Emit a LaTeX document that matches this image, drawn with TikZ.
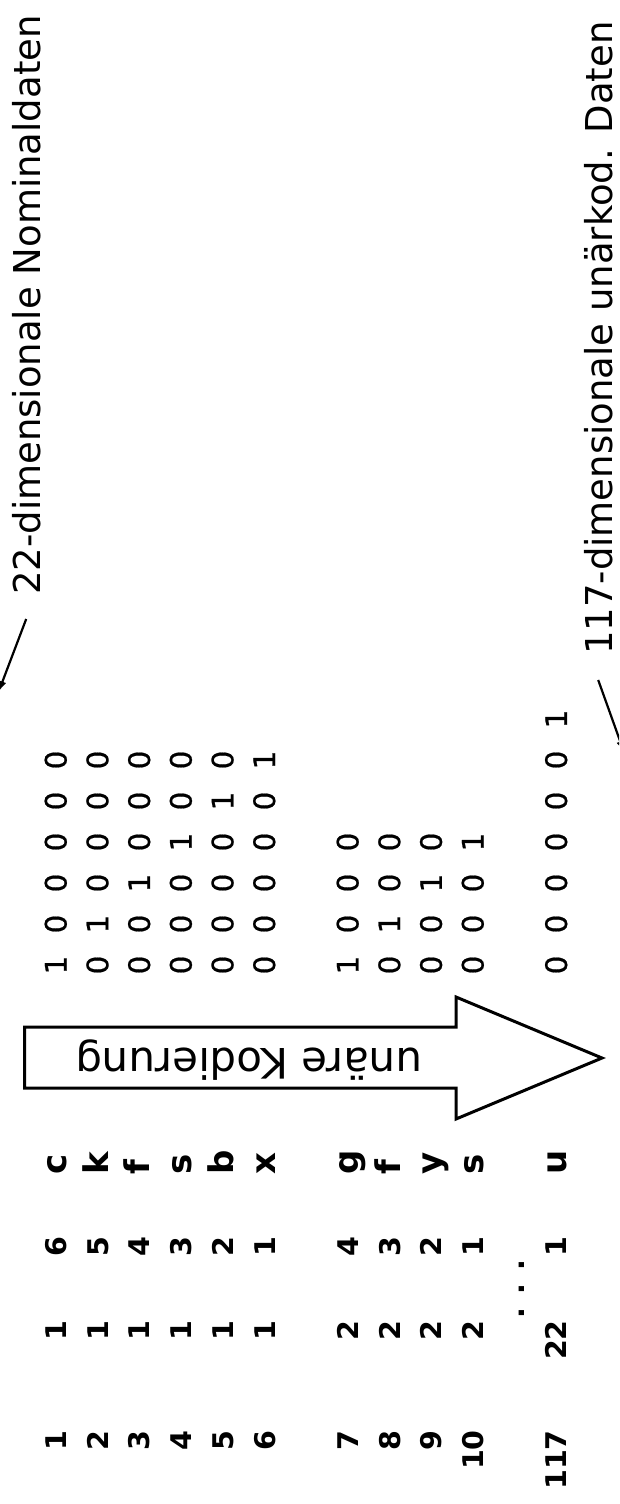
\documentclass[tikz,border=0pt]{standalone}
\usepackage{fontspec}
\setmainfont{DejaVu Sans}
\newfontfamily\bitfont[FakeBold=0.7]{DejaVu Sans}
\usetikzlibrary{arrows.meta}
\begin{document}
\begin{tikzpicture}[x=1pt,y=1pt,
  cell/.style={rotate=90,inner sep=0pt,font=\fontsize{28.5}{30}\selectfont\bfseries},
  symbol/.style={rotate=90,inner sep=0pt,font=\fontsize{34}{36}\selectfont\bfseries},
  bit/.style={rotate=90,inner sep=0pt,anchor=base,font=\fontsize{29.5}{30}\bitfont},
  caption/.style={rotate=90,inner sep=0pt,anchor=base west,font=\fontsize{37}{40}\selectfont},
  pointer/.style={line width=2.2pt,-{Latex[length=11pt,width=8pt]}},
  bigarrow/.style={line width=3pt,line join=miter},
]
\useasboundingbox (0,0) rectangle (619,-1504);
\clip (0,0) rectangle (619,-1504);

% table rows: index / attribute / value / symbol / row slot / unary code
\foreach \n/\a/\v/\l/\k/\bits in {
    1/1/6/c/0/{1,0,0,0,0,0},
    2/1/5/k/1/{0,1,0,0,0,0},
    3/1/4/f/2/{0,0,1,0,0,0},
    4/1/3/s/3/{0,0,0,1,0,0},
    5/1/2/b/4/{0,0,0,0,1,0},
    6/1/1/x/5/{0,0,0,0,0,1},
    7/2/4/g/7/{1,0,0,0},
    8/2/3/f/8/{0,1,0,0},
    9/2/2/y/9/{0,0,1,0},
    10/2/1/s/10/{0,0,0,1},
    117/22/1/u/12/{0,0,0,0,0,0,1}}{
  \pgfmathsetmacro{\xb}{66.5+41.7*\k}
  \node[cell,anchor=base east] (idx-\n) at (\xb,-1430) {\n};
  \node[cell,anchor=base east] (att-\n) at (\xb,-1320) {\a};
  \node[cell,anchor=base east] (val-\n) at (\xb,-1236) {\v};
  \node[symbol,anchor=base west] (sym-\n) at (\xb,-1175) {\l};
  \foreach \b [count=\j from 0] in \bits {
    \node[bit] (bit-\n-\j) at (\xb,{-965+41*\j}) {\b};
  }
}

% omitted rows
\node[cell,anchor=base] (gap) at (524,-1289) {. . .};

% encoding arrow
\draw[bigarrow] (24.5,-1027) -- (456,-1027) -- (456,-997) -- (602,-1058)
  -- (456,-1119) -- (456,-1088) -- (24.5,-1088) -- cycle;
\node[rotate=180,inner sep=0pt,font=\fontsize{42}{44}\selectfont] (enc) at (249,-1060) {unäre Kodierung};

% captions with pointers
\node[caption] (lab1) at (40,-595) {22-dimensionale Nominaldaten};
\node[caption] (lab2) at (612,-655) {117-dimensionale unärkod. Daten};
\coordinate (tip1) at (-1.5,-692);
\coordinate (tip2) at (624,-752);
\draw[pointer] ([yshift=-24pt]lab1.west) -- (tip1);
\draw[pointer] ([yshift=-25pt]lab2.west) -- (tip2);
\end{tikzpicture}
\end{document}
